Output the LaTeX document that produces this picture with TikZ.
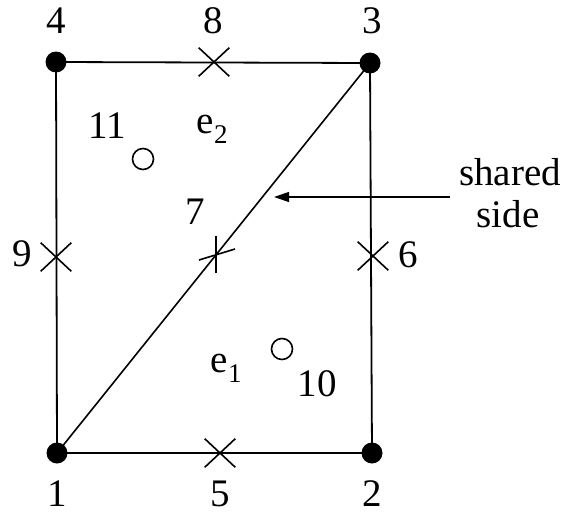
\documentclass[tikz,border=0pt]{standalone}
\usepackage{fontspec}
\setmainfont{Liberation Serif}
\usetikzlibrary{arrows.meta,shapes.misc}
\newcommand{\lowidx}[1]{\raisebox{-0.28em}{\fontsize{27}{27}\selectfont #1}}
\begin{document}
\begin{tikzpicture}[x=1pt,y=-1pt,line width=1.8pt,
  dotnode/.style={circle,fill=black,inner sep=0pt,minimum size=21pt},
  xmark/.style={cross out,draw,line width=1.6pt,inner sep=0pt,minimum width=29pt,minimum height=27pt},
  opencirc/.style={circle,draw,line width=1.6pt,inner sep=0pt,minimum size=21pt},
  lbl/.style={font=\fontsize{39}{44}\selectfont,inner sep=0pt}]
\useasboundingbox (0,0) rectangle (566,517);
% corner nodes
\node[dotnode] (n1) at (57,453) {};
\node[dotnode] (n2) at (372,453) {};
\node[dotnode] (n3) at (370,63) {};
\node[dotnode] (n4) at (56,62) {};
% edges
\draw (n1.center) -- (n2.center) -- (n3.center) -- (n4.center) -- (n1.center);
\draw[line width=1.6pt] (n1.center) -- (n3.center);
% mid-side markers
\node[xmark] (n5) at (220,453) {};
\node[xmark] (n6) at (373,256) {};
\node[xmark] (n8) at (214,62) {};
\node[xmark] (n9) at (56,257) {};
\coordinate (n7) at (216,255);
\draw[line width=1.6pt] ([yshift=-18pt]n7) -- ([yshift=19pt]n7);
\draw[line width=1.6pt] ([xshift=-17pt,yshift=-5pt]n7) -- ([xshift=19pt,yshift=6pt]n7);
% interior points
\node[opencirc] (n10) at (282,349) {};
\node[opencirc] (n11) at (143,159) {};
% labels
\node[lbl] (l4) at (56,21) {4};
\node[lbl] (l8) at (213,21) {8};
\node[lbl] (l3) at (372,21) {3};
\node[lbl] (l11) at (107,126) {11};
\node[lbl,anchor=base west] (le2) at (196,133) {e\lowidx{2}};
\node[lbl] (l7) at (195,212) {7};
\node[lbl] (l9) at (22,254) {9};
\node[lbl] (l6) at (408,255) {6};
\node[lbl,anchor=base west] (le1) at (210,372) {e\lowidx{1}};
\node[lbl] (l10) at (317,384) {10};
\node[lbl] (l1) at (57,494) {1};
\node[lbl] (l5) at (220,494) {5};
\node[lbl] (l2) at (372,494) {2};
\node[lbl] (shared) at (510,172) {shared};
\node[lbl] (side) at (508,214) {side};
% arrow
\coordinate (arrstart) at (450,197);
\coordinate (arrtip) at (274,197);
\draw[line width=1.2pt,-{Triangle[length=15pt,width=10pt]}] (arrstart) -- (arrtip);
\end{tikzpicture}
\end{document}
